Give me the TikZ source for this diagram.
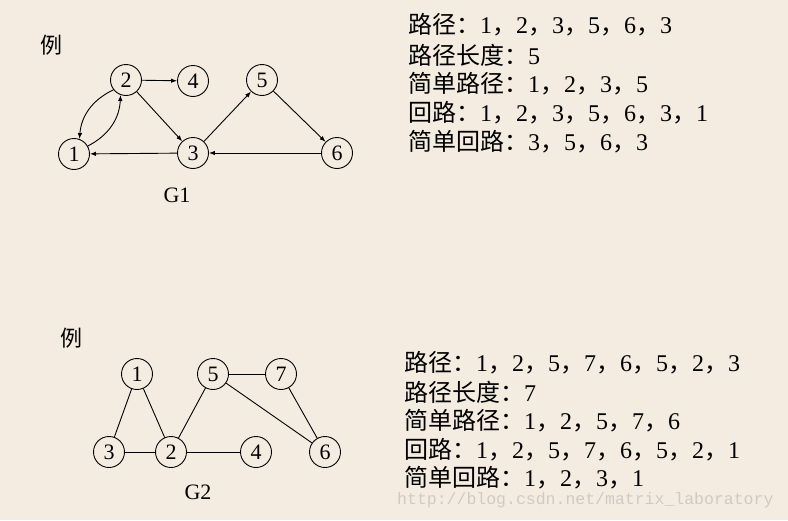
\documentclass[tikz,border=0pt]{standalone}
\usepackage{fontspec}
\setmainfont{Liberation Serif}
\setmonofont{Liberation Mono}
\newfontfamily\cjk{Noto Sans CJK SC}
\usetikzlibrary{arrows.meta}
\definecolor{bg}{RGB}{244,236,225}
\definecolor{wm}{RGB}{208,202,196}
\newcommand\cm{{\cjk ，}}
\begin{document}
\begin{tikzpicture}[x=1pt,y=-1pt,
  vtx/.style={circle,draw,line width=0.9pt,minimum size=31pt,inner sep=0pt,font=\fontsize{22}{22}\selectfont},
  arc/.style={line width=0.9pt,-{Latex[length=6pt,width=4.5pt]}},
  edge/.style={line width=0.9pt},
  info/.style={anchor=west,inner sep=0pt,font=\fontsize{24}{24}\selectfont},
  lbl/.style={inner sep=0pt,font=\fontsize{22}{22}\selectfont},
  ex/.style={inner sep=0pt,font=\fontsize{22}{22}\selectfont\cjk}]
\fill[bg] (0,0) rectangle (788,520);
\useasboundingbox (0,0) rectangle (788,520);
% G1
\node[ex] (e1) at (52,45) {例};
\node[vtx] (a1) at (74,154) {1};
\node[vtx] (a2) at (126,80) {2};
\node[vtx] (a3) at (193,153) {3};
\node[vtx] (a4) at (193,81) {4};
\node[vtx] (a5) at (262,80) {5};
\node[vtx] (a6) at (337,153) {6};
\node[lbl] (g1) at (177,195) {G1};
\draw[arc] (a2) -- (a4);
\draw[arc] (a2) -- (a3);
\draw[arc] (a3) -- (a5);
\draw[arc] (a5) -- (a6);
\draw[arc] (a6) -- (a3);
\draw[arc] (a3) -- (a1);
\draw[arc] (a2.218) to[bend right=30] (a1.70);
\draw[arc] (a1.30) to[bend right=30] (a2.250);
% G2
\node[ex] (e2) at (71,338) {例};
\node[vtx] (b1) at (137,374) {1};
\node[vtx] (b5) at (213,374) {5};
\node[vtx] (b7) at (281,374) {7};
\node[vtx] (b3) at (109,452) {3};
\node[vtx] (b2) at (171,452) {2};
\node[vtx] (b4) at (256,452) {4};
\node[vtx] (b6) at (325,452) {6};
\node[lbl] (g2) at (198,492) {G2};
\draw[edge] (b1) -- (b3);
\draw[edge] (b1) -- (b2);
\draw[edge] (b3) -- (b2);
\draw[edge] (b2) -- (b5);
\draw[edge] (b2) -- (b4);
\draw[edge] (b5) -- (b7);
\draw[edge] (b5) -- (b6);
\draw[edge] (b7) -- (b6);
% text block 1
\node[info] (t1) at (408,25) {{\cjk 路径：}1\cm2\cm3\cm5\cm6\cm3};
\node[info] (t2) at (408,55) {{\cjk 路径长度：}5};
\node[info] (t3) at (408,84) {{\cjk 简单路径：}1\cm2\cm3\cm5};
\node[info] (t4) at (408,113) {{\cjk 回路：}1\cm2\cm3\cm5\cm6\cm3\cm1};
\node[info] (t5) at (408,142) {{\cjk 简单回路：}3\cm5\cm6\cm3};
% text block 2
\node[info] (u1) at (404,363) {{\cjk 路径：}1\cm2\cm5\cm7\cm6\cm5\cm2\cm3};
\node[info] (u2) at (404,392) {{\cjk 路径长度：}7};
\node[info] (u3) at (404,421) {{\cjk 简单路径：}1\cm2\cm5\cm7\cm6};
\node[info] (u4) at (404,450) {{\cjk 回路：}1\cm2\cm5\cm7\cm6\cm5\cm2\cm1};
\node[info] (u5) at (404,478) {{\cjk 简单回路：}1\cm2\cm3\cm1};
% watermark
\node[anchor=west,inner sep=0pt,text=wm,font=\fontsize{16.5}{16.5}\ttfamily] (wmk) at (397,500) {http://blog.csdn.net/matrix\_laboratory};
\end{tikzpicture}
\end{document}
